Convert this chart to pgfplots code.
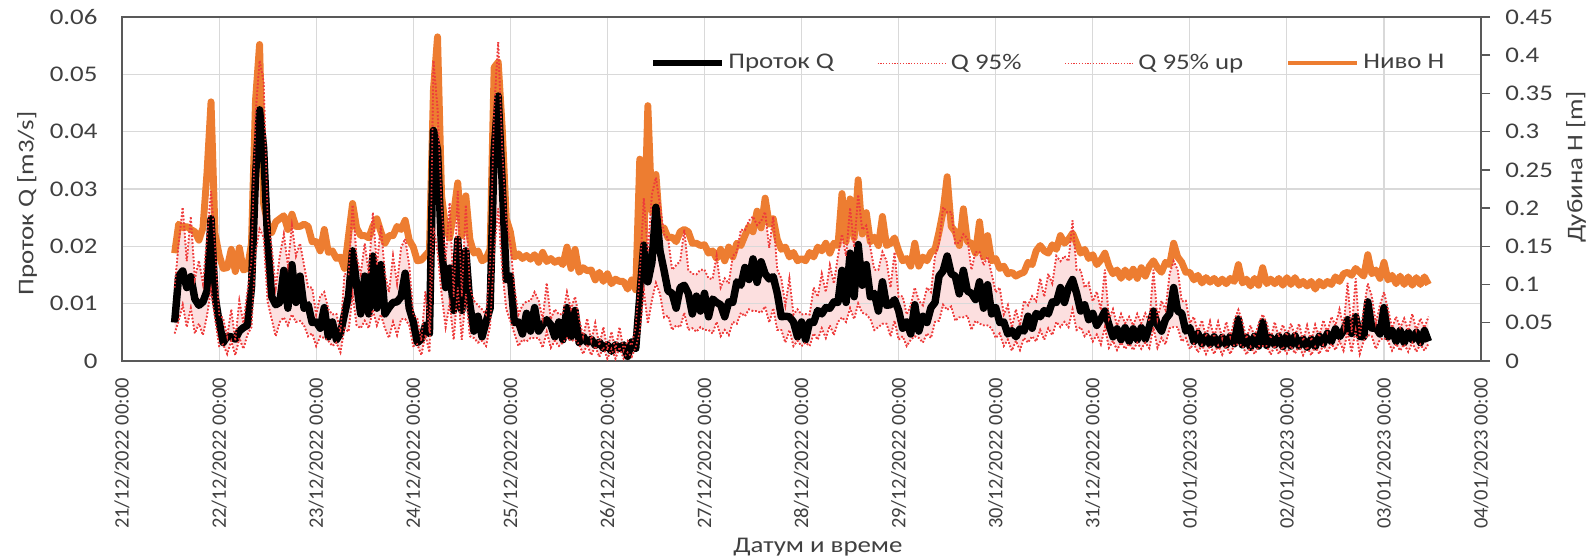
\documentclass[border=0pt]{standalone}
\usepackage{fontspec}
\setmainfont{Carlito}[FakeStretch=1.2]
\newfontfamily\datefont{Carlito}
\usepackage{pgfplots}
\usepackage{pgfplotstable}
\usepgfplotslibrary{fillbetween}
\pgfplotsset{compat=1.18}

\definecolor{nivo}{HTML}{ED7D31}
\definecolor{qband}{HTML}{EE3B3B}
\definecolor{gridc}{HTML}{D9D9D9}
\definecolor{axisc}{HTML}{595959}
\definecolor{txt}{HTML}{404040}

% hourly record: h = hours since 21/12/2022 00:00
\pgfplotstableread{
h Q lo hi H
13 0.0067 0.0048 0.0128 0.141
14 0.0148 0.0070 0.0205 0.179
15 0.0157 0.0098 0.0268 0.174
16 0.0128 0.0059 0.0174 0.176
17 0.0147 0.0092 0.0252 0.172
18 0.0108 0.0048 0.0143 0.169
19 0.0097 0.0065 0.0175 0.158
20 0.0103 0.0045 0.0135 0.174
21 0.0122 0.0079 0.0214 0.246
22 0.0248 0.0125 0.0296 0.339
23 0.0112 0.0073 0.0198 0.166
24 0.0068 0.0026 0.0081 0.139
25 0.0032 0.0029 0.0074 0.121
26 0.0043 0.0012 0.0042 0.122
27 0.0042 0.0035 0.0090 0.146
28 0.0038 0.0010 0.0035 0.117
29 0.0052 0.0040 0.0105 0.148
30 0.0058 0.0021 0.0066 0.119
31 0.0062 0.0046 0.0121 0.121
32 0.0128 0.0059 0.0174 0.154
33 0.0322 0.0189 0.0428 0.341
34 0.0438 0.0230 0.0524 0.414
35 0.0372 0.0216 0.0488 0.206
36 0.0208 0.0103 0.0248 0.179
37 0.0112 0.0073 0.0198 0.168
38 0.0098 0.0043 0.0128 0.182
39 0.0102 0.0068 0.0183 0.186
40 0.0158 0.0076 0.0221 0.190
41 0.0092 0.0062 0.0167 0.172
42 0.0168 0.0081 0.0236 0.192
43 0.0102 0.0068 0.0183 0.176
44 0.0148 0.0070 0.0205 0.176
45 0.0092 0.0062 0.0167 0.179
46 0.0098 0.0043 0.0128 0.176
47 0.0067 0.0048 0.0128 0.156
48 0.0068 0.0026 0.0081 0.156
49 0.0057 0.0043 0.0113 0.144
50 0.0093 0.0040 0.0120 0.172
51 0.0042 0.0035 0.0090 0.142
52 0.0068 0.0026 0.0081 0.144
53 0.0037 0.0032 0.0082 0.134
54 0.0048 0.0015 0.0050 0.136
55 0.0082 0.0057 0.0152 0.121
56 0.0113 0.0051 0.0151 0.164
57 0.0192 0.0117 0.0272 0.206
58 0.0133 0.0062 0.0182 0.174
59 0.0082 0.0057 0.0152 0.164
60 0.0148 0.0070 0.0205 0.164
61 0.0082 0.0057 0.0152 0.161
62 0.0183 0.0089 0.0259 0.176
63 0.0092 0.0062 0.0167 0.186
64 0.0168 0.0081 0.0236 0.169
65 0.0082 0.0057 0.0152 0.154
66 0.0093 0.0040 0.0120 0.164
67 0.0102 0.0068 0.0183 0.164
68 0.0103 0.0045 0.0135 0.176
69 0.0112 0.0073 0.0198 0.172
70 0.0153 0.0073 0.0213 0.184
71 0.0092 0.0062 0.0167 0.158
72 0.0068 0.0026 0.0081 0.149
73 0.0032 0.0029 0.0074 0.131
74 0.0038 0.0010 0.0035 0.132
75 0.0062 0.0046 0.0121 0.138
76 0.0048 0.0015 0.0050 0.144
77 0.0402 0.0233 0.0524 0.356
78 0.0368 0.0191 0.0440 0.424
79 0.0192 0.0117 0.0272 0.216
80 0.0128 0.0059 0.0174 0.174
81 0.0162 0.0101 0.0276 0.161
82 0.0088 0.0037 0.0112 0.194
83 0.0212 0.0128 0.0296 0.233
84 0.0088 0.0037 0.0112 0.164
85 0.0192 0.0117 0.0272 0.216
86 0.0098 0.0043 0.0128 0.159
87 0.0052 0.0040 0.0105 0.141
88 0.0078 0.0032 0.0097 0.144
89 0.0042 0.0035 0.0090 0.131
90 0.0068 0.0026 0.0081 0.134
91 0.0092 0.0062 0.0167 0.146
92 0.0368 0.0191 0.0440 0.384
93 0.0462 0.0266 0.0556 0.391
94 0.0308 0.0158 0.0368 0.304
95 0.0142 0.0090 0.0245 0.186
96 0.0148 0.0070 0.0205 0.169
97 0.0067 0.0048 0.0128 0.136
98 0.0068 0.0026 0.0081 0.140
99 0.0047 0.0037 0.0097 0.134
100 0.0083 0.0034 0.0104 0.138
101 0.0052 0.0040 0.0105 0.133
102 0.0093 0.0040 0.0120 0.139
103 0.0052 0.0040 0.0105 0.129
104 0.0063 0.0023 0.0073 0.142
105 0.0072 0.0051 0.0136 0.130
106 0.0063 0.0023 0.0073 0.134
107 0.0042 0.0035 0.0090 0.129
108 0.0068 0.0026 0.0081 0.132
109 0.0037 0.0032 0.0082 0.126
110 0.0093 0.0040 0.0120 0.149
111 0.0042 0.0035 0.0090 0.121
112 0.0088 0.0037 0.0112 0.146
113 0.0032 0.0029 0.0074 0.116
114 0.0043 0.0012 0.0042 0.122
115 0.0032 0.0029 0.0074 0.118
116 0.0038 0.0010 0.0035 0.119
117 0.0027 0.0026 0.0066 0.106
118 0.0033 0.0007 0.0027 0.116
119 0.0022 0.0024 0.0059 0.104
120 0.0028 0.0004 0.0019 0.114
121 0.0017 0.0021 0.0051 0.101
122 0.0028 0.0004 0.0019 0.107
123 0.0022 0.0024 0.0059 0.104
124 0.0028 0.0004 0.0019 0.104
125 0.0008 0.0015 0.0035 0.094
126 0.0033 0.0007 0.0027 0.106
127 0.0022 0.0024 0.0059 0.093
128 0.0113 0.0051 0.0151 0.264
129 0.0202 0.0123 0.0284 0.146
130 0.0138 0.0065 0.0190 0.334
131 0.0172 0.0106 0.0291 0.196
132 0.0268 0.0136 0.0320 0.244
133 0.0192 0.0117 0.0272 0.171
134 0.0158 0.0076 0.0221 0.174
135 0.0122 0.0079 0.0214 0.161
136 0.0118 0.0054 0.0159 0.162
137 0.0092 0.0062 0.0167 0.156
138 0.0128 0.0059 0.0174 0.169
139 0.0132 0.0084 0.0229 0.172
140 0.0118 0.0054 0.0159 0.169
141 0.0082 0.0057 0.0152 0.154
142 0.0113 0.0051 0.0151 0.154
143 0.0087 0.0059 0.0159 0.151
144 0.0118 0.0054 0.0159 0.152
145 0.0077 0.0054 0.0144 0.141
146 0.0108 0.0048 0.0143 0.144
147 0.0102 0.0068 0.0183 0.134
148 0.0098 0.0043 0.0128 0.146
149 0.0077 0.0054 0.0144 0.131
150 0.0103 0.0045 0.0135 0.149
151 0.0102 0.0068 0.0183 0.136
152 0.0138 0.0065 0.0190 0.154
153 0.0132 0.0084 0.0229 0.151
154 0.0163 0.0078 0.0228 0.164
155 0.0142 0.0090 0.0245 0.176
156 0.0178 0.0087 0.0252 0.169
157 0.0137 0.0087 0.0237 0.196
158 0.0173 0.0084 0.0244 0.174
159 0.0152 0.0095 0.0260 0.213
160 0.0143 0.0067 0.0197 0.179
161 0.0147 0.0092 0.0252 0.186
162 0.0118 0.0054 0.0159 0.159
163 0.0077 0.0054 0.0144 0.146
164 0.0078 0.0032 0.0097 0.149
165 0.0077 0.0054 0.0144 0.136
166 0.0068 0.0026 0.0081 0.142
167 0.0042 0.0035 0.0090 0.131
168 0.0068 0.0026 0.0081 0.134
169 0.0037 0.0032 0.0082 0.131
170 0.0068 0.0026 0.0081 0.142
171 0.0067 0.0048 0.0128 0.136
172 0.0088 0.0037 0.0112 0.149
173 0.0082 0.0057 0.0152 0.144
174 0.0093 0.0040 0.0120 0.154
175 0.0092 0.0062 0.0167 0.141
176 0.0103 0.0045 0.0135 0.154
177 0.0102 0.0068 0.0183 0.151
178 0.0158 0.0076 0.0221 0.219
179 0.0102 0.0068 0.0183 0.156
180 0.0188 0.0092 0.0267 0.212
181 0.0112 0.0073 0.0198 0.161
182 0.0203 0.0100 0.0290 0.237
183 0.0132 0.0084 0.0229 0.166
184 0.0168 0.0081 0.0236 0.194
185 0.0112 0.0073 0.0198 0.156
186 0.0118 0.0054 0.0159 0.162
187 0.0087 0.0059 0.0159 0.151
188 0.0138 0.0065 0.0190 0.189
189 0.0097 0.0065 0.0175 0.151
190 0.0098 0.0043 0.0128 0.154
191 0.0107 0.0070 0.0190 0.161
192 0.0088 0.0037 0.0112 0.144
193 0.0057 0.0043 0.0113 0.131
194 0.0068 0.0026 0.0081 0.134
195 0.0047 0.0037 0.0097 0.124
196 0.0098 0.0043 0.0128 0.154
197 0.0052 0.0040 0.0105 0.124
198 0.0078 0.0032 0.0097 0.136
199 0.0067 0.0048 0.0128 0.131
200 0.0093 0.0040 0.0120 0.142
201 0.0102 0.0068 0.0183 0.146
202 0.0148 0.0070 0.0205 0.169
203 0.0157 0.0098 0.0268 0.196
204 0.0183 0.0089 0.0259 0.241
205 0.0152 0.0095 0.0260 0.176
206 0.0148 0.0070 0.0205 0.169
207 0.0117 0.0076 0.0206 0.151
208 0.0158 0.0076 0.0221 0.199
209 0.0122 0.0079 0.0214 0.156
210 0.0118 0.0054 0.0159 0.154
211 0.0107 0.0070 0.0190 0.141
212 0.0138 0.0065 0.0190 0.182
213 0.0092 0.0062 0.0167 0.136
214 0.0133 0.0062 0.0182 0.164
215 0.0082 0.0057 0.0152 0.131
216 0.0093 0.0040 0.0120 0.134
217 0.0067 0.0048 0.0128 0.121
218 0.0068 0.0026 0.0081 0.124
219 0.0047 0.0037 0.0097 0.114
220 0.0053 0.0018 0.0058 0.116
221 0.0042 0.0035 0.0090 0.111
222 0.0056 0.0019 0.0062 0.114
223 0.0052 0.0040 0.0105 0.116
224 0.0078 0.0032 0.0097 0.129
225 0.0057 0.0043 0.0113 0.126
226 0.0083 0.0034 0.0104 0.144
227 0.0077 0.0054 0.0144 0.151
228 0.0088 0.0037 0.0112 0.144
229 0.0082 0.0057 0.0152 0.141
230 0.0103 0.0045 0.0135 0.152
231 0.0102 0.0068 0.0183 0.146
232 0.0128 0.0059 0.0174 0.164
233 0.0102 0.0068 0.0183 0.154
234 0.0128 0.0059 0.0174 0.159
235 0.0142 0.0090 0.0245 0.167
236 0.0118 0.0054 0.0159 0.154
237 0.0087 0.0059 0.0159 0.141
238 0.0098 0.0043 0.0128 0.146
239 0.0072 0.0051 0.0136 0.134
240 0.0083 0.0034 0.0104 0.139
241 0.0062 0.0046 0.0121 0.126
242 0.0073 0.0029 0.0089 0.132
243 0.0087 0.0059 0.0159 0.141
244 0.0063 0.0023 0.0073 0.124
245 0.0042 0.0035 0.0090 0.114
246 0.0056 0.0019 0.0062 0.119
247 0.0037 0.0032 0.0082 0.108
248 0.0058 0.0021 0.0066 0.119
249 0.0034 0.0030 0.0077 0.109
250 0.0056 0.0019 0.0062 0.120
251 0.0037 0.0032 0.0082 0.108
252 0.0058 0.0021 0.0066 0.122
253 0.0038 0.0032 0.0083 0.111
254 0.0060 0.0022 0.0069 0.124
255 0.0087 0.0059 0.0159 0.131
256 0.0063 0.0023 0.0073 0.122
257 0.0052 0.0040 0.0105 0.116
258 0.0073 0.0029 0.0089 0.129
259 0.0082 0.0057 0.0152 0.126
260 0.0128 0.0059 0.0174 0.154
261 0.0087 0.0059 0.0159 0.136
262 0.0083 0.0034 0.0104 0.129
263 0.0052 0.0040 0.0105 0.116
264 0.0058 0.0021 0.0066 0.116
265 0.0034 0.0030 0.0077 0.106
266 0.0048 0.0015 0.0050 0.112
267 0.0030 0.0028 0.0071 0.102
268 0.0043 0.0012 0.0042 0.109
269 0.0029 0.0027 0.0069 0.103
270 0.0042 0.0012 0.0041 0.108
271 0.0028 0.0027 0.0068 0.101
272 0.0041 0.0011 0.0039 0.107
273 0.0028 0.0027 0.0068 0.101
274 0.0043 0.0012 0.0042 0.108
275 0.0030 0.0028 0.0071 0.104
276 0.0073 0.0029 0.0089 0.126
277 0.0028 0.0027 0.0068 0.102
278 0.0041 0.0011 0.0039 0.107
279 0.0024 0.0025 0.0062 0.098
280 0.0043 0.0012 0.0042 0.108
281 0.0026 0.0026 0.0065 0.099
282 0.0068 0.0026 0.0081 0.122
283 0.0027 0.0026 0.0066 0.101
284 0.0041 0.0011 0.0039 0.107
285 0.0028 0.0027 0.0068 0.101
286 0.0043 0.0012 0.0042 0.108
287 0.0025 0.0025 0.0063 0.099
288 0.0044 0.0013 0.0044 0.109
289 0.0026 0.0026 0.0065 0.100
290 0.0044 0.0013 0.0044 0.109
291 0.0026 0.0026 0.0065 0.099
292 0.0038 0.0010 0.0035 0.104
293 0.0024 0.0025 0.0062 0.098
294 0.0038 0.0010 0.0035 0.104
295 0.0025 0.0025 0.0063 0.094
296 0.0043 0.0012 0.0042 0.104
297 0.0030 0.0028 0.0071 0.098
298 0.0048 0.0015 0.0050 0.104
299 0.0034 0.0030 0.0077 0.100
300 0.0056 0.0019 0.0062 0.110
301 0.0042 0.0035 0.0090 0.104
302 0.0053 0.0018 0.0058 0.114
303 0.0072 0.0051 0.0136 0.116
304 0.0048 0.0015 0.0050 0.112
305 0.0077 0.0054 0.0144 0.121
306 0.0043 0.0012 0.0042 0.116
307 0.0042 0.0035 0.0090 0.111
308 0.0103 0.0045 0.0135 0.139
309 0.0057 0.0043 0.0113 0.114
310 0.0058 0.0021 0.0066 0.119
311 0.0047 0.0037 0.0097 0.108
312 0.0093 0.0040 0.0120 0.129
313 0.0042 0.0035 0.0090 0.106
314 0.0053 0.0018 0.0058 0.112
315 0.0034 0.0030 0.0077 0.101
316 0.0053 0.0018 0.0058 0.111
317 0.0032 0.0029 0.0074 0.100
318 0.0050 0.0016 0.0053 0.110
319 0.0037 0.0032 0.0082 0.099
320 0.0050 0.0016 0.0053 0.109
321 0.0032 0.0029 0.0074 0.100
322 0.0053 0.0018 0.0058 0.110
323 0.0034 0.0030 0.0077 0.100
}\mereni

\pgfplotsset{
  frame/.style={
    at={(0pt,0pt)}, anchor=south west, scale only axis,
    width=728.2pt, height=184.3pt, xmin=0, xmax=336,
    scaled y ticks=false,
    /pgf/number format/assume math mode=true,
    /pgf/number format/fixed,
    /pgf/number format/precision=2,
    every tick label/.append style={text=txt},
    label style={text=txt, inner sep=0pt},
  },
  bandline/.style={qband, line width=0.9pt, dash pattern=on 0.8pt off 1.1pt},
}

\begin{document}%
\fontsize{12}{14.4}\selectfont%
\begin{tikzpicture}
% page frame (all content lies inside it)
\path (-65.4pt,-106.6pt) rectangle (788.2pt,193.4pt);

% grid, date axis and flow axis
\begin{axis}[frame, ymin=0, ymax=0.06,
  axis line style={axisc, line width=1pt},
  xtick={0,24,...,336},
  xticklabels={21/12/2022 00:00,22/12/2022 00:00,23/12/2022 00:00,24/12/2022 00:00,25/12/2022 00:00,26/12/2022 00:00,27/12/2022 00:00,28/12/2022 00:00,29/12/2022 00:00,30/12/2022 00:00,31/12/2022 00:00,01/01/2023 00:00,02/01/2023 00:00,03/01/2023 00:00,04/01/2023 00:00},
  xticklabel style={rotate=90, anchor=east, font=\datefont\fontsize{11}{13}\selectfont},
  xticklabel shift=5pt,
  ytick={0,0.01,0.02,0.03,0.04,0.05,0.06},
  yticklabel style={inner sep=1pt},
  yticklabel shift=12pt,
  major tick length=0pt,
  xmajorgrids, ymajorgrids, grid style={gridc, line width=0.6pt},
  xlabel={Датум и време},
  xlabel style={at={(rel axis cs:0.512,-0.54)}, anchor=center},
  ylabel={Проток Q [m3/s]},
  ylabel style={at={(rel axis cs:-0.0699,0.458)}, anchor=center},
]
\addplot[draw=none, forget plot] coordinates {(0,0)};
\end{axis}

% depth axis on the right
\begin{axis}[frame, ymin=0, ymax=0.45,
  axis x line=none, axis y line*=right,
  y axis line style={axisc, line width=1pt},
  ytick={0,0.05,0.1,0.15,0.2,0.25,0.3,0.35,0.4,0.45},
  ytick style={axisc, line width=0.8pt},
  tick align=outside, major tick length=4.8pt,
  yticklabel style={inner sep=1pt},
  yticklabel shift=7pt,
  ylabel={Дубина H [m]},
  ylabel style={at={(rel axis cs:1.0699,0.564)}, anchor=center},
]
\addplot[nivo, line width=3.7pt, line join=round] table[x=h, y=H] {\mereni};
\end{axis}

% flow with its 95% band, and the legend
\begin{axis}[frame, ymin=0, ymax=0.06, hide axis,
  legend columns=4,
  legend style={at={(0.3885,0.866)}, anchor=west, draw=none, fill=none,
    inner sep=0pt, text=txt,
    /tikz/every even column/.append style={column sep=21pt}},
  legend image code/.code={\draw[#1] (0pt,0pt) -- (37pt,0pt);},
]
\addplot[bandline, name path=lo, forget plot] table[x=h, y=lo] {\mereni};
\addplot[bandline, name path=hi, forget plot] table[x=h, y=hi] {\mereni};
\addplot[qband, fill opacity=0.16, draw=none, forget plot] fill between[of=lo and hi];
\addplot[black, line width=4pt, line join=round, forget plot] table[x=h, y=Q] {\mereni};
\addplot[bandline, forget plot] table[x=h, y=lo] {\mereni};
\addplot[bandline, forget plot] table[x=h, y=hi] {\mereni};
\addlegendimage{black, line width=2.8pt}
\addlegendentry{Проток Q}
\addlegendimage{qband, line width=0.6pt, dash pattern=on 0.6pt off 0.9pt}
\addlegendentry{Q 95\%}
\addlegendimage{qband, line width=0.6pt, dash pattern=on 0.6pt off 0.9pt}
\addlegendentry{Q 95\% up}
\addlegendimage{nivo, line width=2.3pt}
\addlegendentry{Ниво H}
\end{axis}
\end{tikzpicture}
\end{document}
